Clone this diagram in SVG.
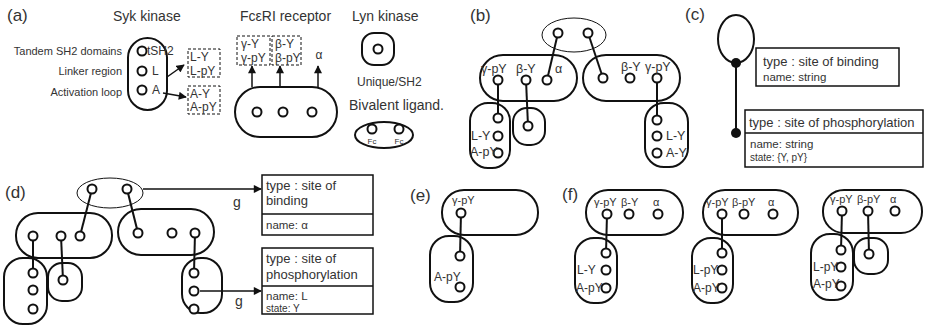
<svg xmlns="http://www.w3.org/2000/svg" width="928" height="330" viewBox="0 0 928 330">
<defs>
<marker id="arr" viewBox="0 0 10 10" refX="9" refY="5" markerWidth="9" markerHeight="8" orient="auto" markerUnits="userSpaceOnUse"><path d="M0,0 L10,5 L0,10 Z" fill="#111"/></marker>
<style>
.s{fill:none;stroke:#111;stroke-width:2}
.c{fill:#fff;stroke:#111;stroke-width:2}
.th{fill:none;stroke:#111;stroke-width:1}
.bx{fill:#fff;stroke:#111;stroke-width:1.5}
.d{fill:none;stroke:#111;stroke-width:1;stroke-dasharray:3 2}
.ln{fill:none;stroke:#111;stroke-width:2}
.la{fill:none;stroke:#111;stroke-width:1.5}
.dot{fill:#111}
text{font-family:"Liberation Sans",Arial,sans-serif;fill:#333}
.p{font-size:17px}
.h{font-size:14px}
.sm{font-size:11px}
.n{font-size:13px}
.nb{font-size:12.5px}
.nf{font-size:11px}
.nd{font-size:12px}
.b1{font-size:13px}
.b2{font-size:11.5px}
.b3{font-size:10px}
.fc{font-size:8px}
.e{text-anchor:end}
.m{text-anchor:middle}
</style>
</defs>

<g id="connectors">
<!-- (a) -->
<line class="la" x1="167" y1="77" x2="184" y2="65" marker-end="url(#arr)"/>
<line class="la" x1="163" y1="93" x2="186" y2="97" marker-end="url(#arr)"/>
<line class="la" x1="252" y1="87" x2="252" y2="66" marker-end="url(#arr)"/>
<line class="la" x1="280" y1="87" x2="280" y2="66" marker-end="url(#arr)"/>
<line class="la" x1="318" y1="87" x2="318" y2="66" marker-end="url(#arr)"/>
<!-- (b) -->
<line class="ln" x1="558" y1="33" x2="547" y2="80"/>
<line class="ln" x1="588" y1="33" x2="603" y2="78"/>
<line class="ln" x1="498" y1="80" x2="498" y2="118"/>
<line class="ln" x1="526" y1="80" x2="528" y2="126"/>
<line class="ln" x1="657" y1="78" x2="657" y2="120"/>
<!-- (c) -->
<line class="ln" x1="736" y1="63" x2="736" y2="133"/>
<!-- (d) -->
<line class="ln" x1="92" y1="189" x2="80" y2="236"/>
<line class="ln" x1="127" y1="189" x2="138" y2="233"/>
<line class="ln" x1="33" y1="236" x2="33" y2="273"/>
<line class="ln" x1="61" y1="236" x2="63" y2="280"/>
<line class="ln" x1="195" y1="233" x2="194" y2="273"/>
<line class="la" x1="143" y1="189" x2="261" y2="189" marker-end="url(#arr)"/>
<line class="la" x1="200" y1="291" x2="261" y2="291" marker-end="url(#arr)"/>
<!-- (e) -->
<line class="ln" x1="461" y1="213" x2="460" y2="256"/>
<!-- (f) -->
<line class="ln" x1="607" y1="214" x2="606" y2="253"/>
<line class="ln" x1="722" y1="214" x2="722" y2="253"/>
<line class="ln" x1="842" y1="211" x2="841" y2="250"/>
<line class="ln" x1="868" y1="211" x2="869" y2="254"/>
</g>

<g id="panel-labels">
<text class="p" x="7" y="21">(a)</text>
<text class="p" x="470" y="21">(b)</text>
<text class="p" x="685" y="20">(c)</text>
<text class="p" x="5" y="198">(d)</text>
<text class="p" x="410" y="201">(e)</text>
<text class="p" x="562" y="200">(f)</text>
</g>

<!-- (a) -->
<g id="a-syk">
<text class="h" x="113" y="21">Syk kinase</text>
<text class="sm e" x="122" y="55">Tandem SH2 domains</text>
<text class="sm e" x="122" y="75">Linker region</text>
<text class="sm e" x="122" y="96">Activation loop</text>
<rect class="s" x="128" y="38" width="39" height="72" rx="19.5"/>
<circle class="c" cx="142" cy="51" r="4.5"/>
<circle class="c" cx="142" cy="71" r="4.5"/>
<circle class="c" cx="142" cy="90" r="4.5"/>
<text class="nd" x="147" y="55">tSH2</text>
<text class="nd" x="152" y="75">L</text>
<text class="nd" x="152" y="94">A</text>
</g>
<g id="a-syk-states">
<rect class="d" x="188" y="49" width="32" height="28"/>
<text class="nd" x="190" y="61">L-Y</text>
<text class="nd" x="190" y="75">L-pY</text>
<rect class="d" x="188" y="86" width="32" height="28"/>
<text class="nd" x="190" y="98">A-Y</text>
<text class="nd" x="190" y="111">A-pY</text>
</g>
<g id="a-receptor">
<text class="h" x="240" y="21">FcεRI receptor</text>
<rect class="d" x="237" y="36" width="33" height="29"/>
<text class="nd" x="241" y="48">γ-Y</text>
<text class="nd" x="241" y="62">γ-pY</text>
<rect class="d" x="272" y="36" width="29" height="29"/>
<text class="nd" x="275" y="48">β-Y</text>
<text class="nd" x="275" y="62">β-pY</text>
<text class="nd m" x="319" y="59">α</text>
<rect class="s" x="235" y="87" width="102" height="50" rx="25"/>
<circle class="c" cx="257" cy="112" r="4.5"/>
<circle class="c" cx="283" cy="112" r="4.5"/>
<circle class="c" cx="312" cy="112" r="4.5"/>
</g>
<g id="a-lyn">
<text class="h" x="352" y="21">Lyn kinase</text>
<rect class="s" x="362" y="33" width="32" height="32" rx="12"/>
<circle class="c" cx="378" cy="49" r="4.5"/>
<text x="357" y="86" style="font-size:12px">Unique/SH2</text>
</g>
<g id="a-ligand">
<text class="h" x="349" y="110">Bivalent ligand.</text>
<ellipse class="s" cx="384" cy="135" rx="29" ry="13"/>
<circle class="c" cx="372" cy="129" r="4.5"/>
<circle class="c" cx="399" cy="129" r="4.5"/>
<text class="fc m" x="372" y="144">Fc</text>
<text class="fc m" x="399" y="144">Fc</text>
</g>

<!-- (b) -->
<g id="b-ligand">
<ellipse class="th" cx="574" cy="35" rx="32" ry="17"/>
<circle class="c" cx="558" cy="33" r="4.5"/>
<circle class="c" cx="588" cy="33" r="4.5"/>
</g>
<g id="b-receptor-left">
<rect class="s" x="480" y="55" width="97" height="46" rx="23"/>
<circle class="c" cx="498" cy="80" r="4.5"/>
<circle class="c" cx="526" cy="80" r="4.5"/>
<circle class="c" cx="547" cy="80" r="4.5"/>
<text class="nb" x="481" y="73">γ-pY</text>
<text class="nb" x="516" y="73">β-Y</text>
<text class="nb" x="555" y="73">α</text>
</g>
<g id="b-syk-left">
<rect class="s" x="470" y="103" width="40" height="65" rx="18"/>
<circle class="c" cx="498" cy="118" r="4.5"/>
<circle class="c" cx="498" cy="136" r="4.5"/>
<circle class="c" cx="498" cy="153" r="4.5"/>
<text class="nb" x="471" y="140">L-Y</text>
<text class="nb" x="470" y="156">A-pY</text>
</g>
<g id="b-lyn">
<rect class="s" x="513" y="108" width="32" height="37" rx="14"/>
<circle class="c" cx="528" cy="126" r="4.5"/>
</g>
<g id="b-receptor-right">
<rect class="s" x="583" y="55" width="97" height="46" rx="23"/>
<circle class="c" cx="603" cy="78" r="4.5"/>
<circle class="c" cx="630" cy="78" r="4.5"/>
<circle class="c" cx="657" cy="78" r="4.5"/>
<text class="nb" x="621" y="71">β-Y</text>
<text class="nb" x="645" y="71">γ-pY</text>
</g>
<g id="b-syk-right">
<rect class="s" x="645" y="103" width="43" height="64" rx="19"/>
<circle class="c" cx="657" cy="120" r="4.5"/>
<circle class="c" cx="657" cy="136" r="4.5"/>
<circle class="c" cx="657" cy="153" r="4.5"/>
<text class="nb" x="666" y="140">L-Y</text>
<text class="nb" x="666" y="157">A-Y</text>
</g>

<!-- (c) -->
<g id="c-graph">
<ellipse class="s" cx="736" cy="39" rx="18" ry="24"/>
<circle class="dot" cx="736" cy="63" r="5"/>
<circle class="dot" cx="736" cy="133" r="5"/>
</g>
<g id="c-binding">
<rect class="bx" x="756" y="48" width="143" height="38"/>
<text class="b1" x="763" y="66">type : site of binding</text>
<text class="b2" x="763" y="81">name: string</text>
</g>
<g id="c-phos">
<rect class="bx" x="745" y="110" width="178" height="57"/>
<line class="th" x1="745" y1="133" x2="923" y2="133" style="stroke-width:1.5"/>
<text class="b1" x="749" y="127">type : site of phosphorylation</text>
<text class="b2" x="750" y="148">name: string</text>
<text class="b3" x="750" y="161">state: {Y, pY}</text>
</g>

<!-- (d) -->
<g id="d-ligand">
<ellipse class="th" cx="110" cy="193" rx="33" ry="15"/>
<circle class="c" cx="92" cy="189" r="4.5"/>
<circle class="c" cx="127" cy="189" r="4.5"/>
</g>
<g id="d-receptor-left">
<rect class="s" x="16" y="213" width="96" height="45" rx="22"/>
<circle class="c" cx="33" cy="236" r="4.5"/>
<circle class="c" cx="61" cy="236" r="4.5"/>
<circle class="c" cx="80" cy="236" r="4.5"/>
</g>
<g id="d-syk-left">
<rect class="s" x="4" y="258" width="43" height="66" rx="19"/>
<circle class="c" cx="33" cy="273" r="4.5"/>
<circle class="c" cx="33" cy="290" r="4.5"/>
<circle class="c" cx="33" cy="309" r="4.5"/>
</g>
<g id="d-lyn">
<rect class="s" x="48" y="263" width="34" height="38" rx="14"/>
<circle class="c" cx="63" cy="280" r="4.5"/>
</g>
<g id="d-receptor-right">
<rect class="s" x="118" y="209" width="96" height="46" rx="23"/>
<circle class="c" cx="138" cy="233" r="4.5"/>
<circle class="c" cx="172" cy="233" r="4.5"/>
<circle class="c" cx="195" cy="233" r="4.5"/>
</g>
<g id="d-syk-right">
<rect class="s" x="182" y="258" width="40" height="55" rx="19"/>
<circle class="c" cx="194" cy="273" r="4.5"/>
<circle class="c" cx="194" cy="291" r="4.5"/>
<circle class="c" cx="194" cy="309" r="4.5"/>
</g>
<g id="d-g-labels">
<text class="h" x="233" y="207">g</text>
<text class="h" x="235" y="306">g</text>
</g>
<g id="d-binding">
<rect class="bx" x="262" y="175" width="111" height="60"/>
<line class="th" x1="262" y1="214" x2="373" y2="214" style="stroke-width:1.5"/>
<text class="b1" x="266" y="190">type : site of</text>
<text class="b1" x="266" y="205">binding</text>
<text class="b2" x="266" y="229">name: α</text>
</g>
<g id="d-phos">
<rect class="bx" x="262" y="248" width="111" height="66"/>
<line class="th" x1="262" y1="286" x2="373" y2="286" style="stroke-width:1.5"/>
<text class="b1" x="266" y="263">type : site of</text>
<text class="b1" x="266" y="279">phosphorylation</text>
<text class="b2" x="266" y="300">name: L</text>
<text class="b3" x="266" y="312">state: Y</text>
</g>

<!-- (e) -->
<g id="e-receptor">
<rect class="s" x="442" y="190" width="96" height="45" rx="22"/>
<circle class="c" cx="461" cy="213" r="4.5"/>
<text class="nf" x="452" y="204">γ-pY</text>
</g>
<g id="e-syk">
<rect class="s" x="430" y="236" width="43" height="66" rx="19"/>
<circle class="c" cx="460" cy="256" r="4.5"/>
<circle class="c" cx="460" cy="287" r="4.5"/>
<text class="nd" x="434" y="281">A-pY</text>
</g>

<!-- (f) -->
<g id="f1-receptor">
<rect class="s" x="586" y="190" width="97" height="45" rx="22"/>
<circle class="c" cx="607" cy="214" r="4.5"/>
<circle class="c" cx="629" cy="214" r="4.5"/>
<circle class="c" cx="658" cy="214" r="4.5"/>
<text class="nf" x="594" y="206">γ-pY</text>
<text class="nf" x="621" y="206">β-Y</text>
<text class="nf" x="653" y="206">α</text>
</g>
<g id="f1-syk">
<rect class="s" x="575" y="238" width="42" height="65" rx="19"/>
<circle class="c" cx="606" cy="253" r="4.5"/>
<circle class="c" cx="606" cy="270" r="4.5"/>
<circle class="c" cx="606" cy="288" r="4.5"/>
<text class="nd" x="577" y="274">L-Y</text>
<text class="nd" x="576" y="292">A-pY</text>
</g>
<g id="f2-receptor">
<rect class="s" x="703" y="190" width="95" height="45" rx="22"/>
<circle class="c" cx="722" cy="214" r="4.5"/>
<circle class="c" cx="744" cy="214" r="4.5"/>
<circle class="c" cx="773" cy="214" r="4.5"/>
<text class="nf" x="706" y="206">γ-pY</text>
<text class="nf" x="732" y="206">β-pY</text>
<text class="nf" x="768" y="206">α</text>
</g>
<g id="f2-syk">
<rect class="s" x="692" y="238" width="41" height="65" rx="19"/>
<circle class="c" cx="722" cy="253" r="4.5"/>
<circle class="c" cx="722" cy="270" r="4.5"/>
<circle class="c" cx="722" cy="288" r="4.5"/>
<text class="nd" x="693" y="274">L-pY</text>
<text class="nd" x="693" y="292">A-pY</text>
</g>
<g id="f3-receptor">
<rect class="s" x="823" y="190" width="99" height="43" rx="21"/>
<circle class="c" cx="842" cy="211" r="4.5"/>
<circle class="c" cx="868" cy="211" r="4.5"/>
<circle class="c" cx="895" cy="211" r="4.5"/>
<text class="nf" x="830" y="203">γ-pY</text>
<text class="nf" x="857" y="203">β-pY</text>
<text class="nf" x="890" y="203">α</text>
</g>
<g id="f3-syk">
<rect class="s" x="811" y="234" width="42" height="66" rx="19"/>
<circle class="c" cx="841" cy="250" r="4.5"/>
<circle class="c" cx="841" cy="267" r="4.5"/>
<circle class="c" cx="841" cy="286" r="4.5"/>
<text class="nd" x="813" y="271">L-pY</text>
<text class="nd" x="813" y="288">A-pY</text>
</g>
<g id="f3-lyn">
<rect class="s" x="854" y="238" width="34" height="36" rx="14"/>
<circle class="c" cx="869" cy="254" r="4.5"/>
</g>
</svg>
